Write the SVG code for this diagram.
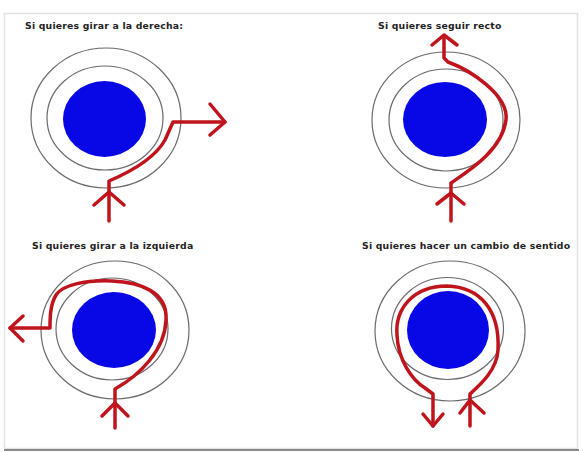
<svg xmlns="http://www.w3.org/2000/svg" width="585" height="452" viewBox="0 0 585 452">
<style>
.ring{fill:none;stroke:#6a6a6a;stroke-width:1.2}
.core{fill:#0808e6}
.route{fill:none;stroke:#c0141c;stroke-width:3.5;stroke-linecap:round;stroke-linejoin:round}
.lbl{font-family:"DejaVu Sans",sans-serif;font-size:9.3px;font-weight:bold;fill:#222;letter-spacing:0.2px}
</style>
<rect x="0" y="0" width="585" height="452" fill="#ffffff"/>
<rect x="4.5" y="13.5" width="573" height="435" fill="none" stroke="#e2e2e2" stroke-width="1.5"/>
<line x1="4" y1="450" x2="579" y2="450" stroke="#8a8a8a" stroke-width="2"/>

<g id="panel-derecha">
<text class="lbl" x="25" y="29">Si quieres girar a la derecha:</text>
<ellipse class="ring" cx="106" cy="118" rx="75" ry="70"/>
<ellipse class="ring" cx="105" cy="118" rx="58" ry="52"/>
<ellipse class="core" cx="104.5" cy="119" rx="41.5" ry="38"/>
</g>
<g id="panel-recto">
<text class="lbl" x="378" y="29">Si quieres seguir recto</text>
<ellipse class="ring" cx="446" cy="120" rx="74" ry="68"/>
<ellipse class="ring" cx="446" cy="120" rx="57" ry="51"/>
<ellipse class="core" cx="445" cy="119.5" rx="42" ry="37.5"/>
</g>
<g id="panel-izquierda">
<text class="lbl" x="32" y="249">Si quieres girar a la izquierda</text>
<ellipse class="ring" cx="115" cy="330" rx="74" ry="69"/>
<ellipse class="ring" cx="112" cy="329" rx="56" ry="51"/>
<ellipse class="core" cx="114" cy="330" rx="42" ry="38"/>
</g>
<g id="panel-cambio">
<text class="lbl" x="362" y="249">Si quieres hacer un cambio de sentido</text>
<ellipse class="ring" cx="450" cy="331" rx="75" ry="70"/>
<ellipse class="ring" cx="447.5" cy="328.5" rx="56" ry="51"/>
<ellipse class="core" cx="448" cy="330" rx="41" ry="39"/>
</g>

<g id="connectors">
<!-- derecha -->
<path class="route" d="M109,221 L109,181 C130,172 155,158 165,140 L173,122 L225,122"/>
<path class="route" d="M210,104 L225,122 L210,135"/>
<path class="route" d="M94,205 L109,192 L124,205"/>
<!-- recto -->
<path class="route" d="M451,221 L451,183 C470,170 502,150 506,120 C509,95 470,70 448,62 L444,58 L444,37"/>
<path class="route" d="M432,45 L444,35 L457,45"/>
<path class="route" d="M437,204 L451,193 L464,204"/>
<!-- izquierda -->
<path class="route" d="M115,428 L115,389 C140,375 165,350 166,320 C168,292 140,282 112,281 C85,280 62,285 56,295 C50,305 50,318 50,328 L10,328"/>
<path class="route" d="M23,316 L10,328 L23,341"/>
<path class="route" d="M102,416 L115,403 L128,416"/>
<!-- cambio -->
<path class="route" d="M470,426 L470,394 C480,385 497,370 498,350 C500,310 480,287 447,286 C412,286 395,310 397,335 C398,360 412,380 425,388 L433,394 L433,426"/>
<path class="route" d="M423,414 L433,426 L443,414"/>
<path class="route" d="M460,413 L470,400 L484,413"/>
</g>
</svg>
